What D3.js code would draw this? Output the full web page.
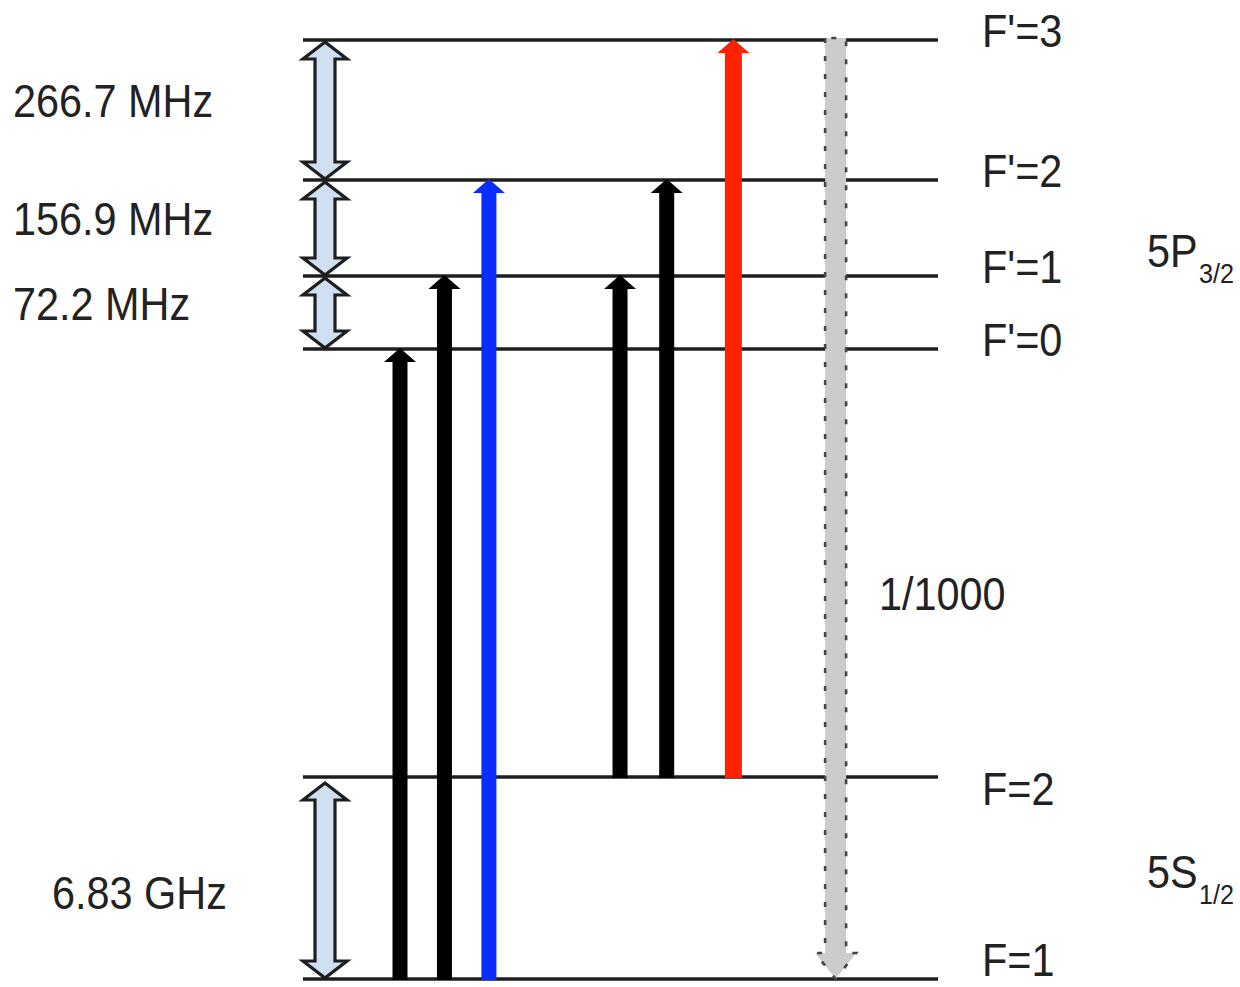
<!DOCTYPE html>
<html>
<head>
<meta charset="utf-8">
<script src="https://cdn.jsdelivr.net/npm/d3@7"></script>
<style>
  body { margin: 0; background: #fff; }
  text { font-family: "Liberation Sans", Arial, sans-serif; fill: #222; }
</style>
</head>
<body>
<div id="diagram"></div>
<script>
// Rb-87 D2 line hyperfine levels (schematic, not to scale)

// levels, bottom to top, with schematic height
const levelNames = ["F=1", "F=2", "F'=0", "F'=1", "F'=2", "F'=3"];
const levelHeights = [0, 202, 630, 703, 799, 939];

// splittings between neighbouring levels
const splitLower = ["F=1", "F'=0", "F'=1", "F'=2"];
const splitUpper = ["F=2", "F'=1", "F'=2", "F'=3"];
const splitLabels = ["6.83 GHz", "72.2 MHz", "156.9 MHz", "266.7 MHz"];

// optical transitions (up arrows)
const transFrom = ["F=1", "F=1", "F=1", "F=2", "F=2", "F=2"];
const transTo = ["F'=0", "F'=1", "F'=2", "F'=1", "F'=2", "F'=3"];
const transColumn = [0, 1, 2, 4.95, 6, 7.5];
const transColors = ["#000000", "#000000", "#0a2dff", "#000000", "#000000", "#ff2200"];

// off-resonant decay
const decayFrom = "F'=3";
const decayTo = "F=1";
const decayColumn = 9.8;
const decayLabel = "1/1000";

// manifold names
const manifoldNames = ["5P", "5S"];
const manifoldSubs = ["3/2", "1/2"];

const W = 1240, H = 987;
const lineX0 = 303, lineX1 = 938;
const splitX = 325;

const svg = d3.select("#diagram").append("svg")
    .attr("width", W)
    .attr("height", H);

const yScale = d3.scaleLinear()
    .domain([0, 939])
    .range([979, 40]);

const xScale = d3.scaleLinear()
    .domain([0, 10])
    .range([400, 844.5]);

const levelY = {};
levelNames.forEach(function(n, i) { levelY[n] = yScale(levelHeights[i]); });

// stretched text like the source picture
function label(g, x, y, txt, size) {
    return g.append("text")
        .attr("transform", "translate(" + x + "," + y + ") scale(0.9,1)")
        .style("font-size", size + "px")
        .text(txt);
}

// polygon for a single up arrow, tip at yTip
function upArrow(x, yBase, yTip, sw, hw, hh) {
    return [
        [x - sw / 2, yBase], [x - sw / 2, yTip + hh], [x - hw / 2, yTip + hh],
        [x, yTip], [x + hw / 2, yTip + hh], [x + sw / 2, yTip + hh], [x + sw / 2, yBase]
    ];
}

function downArrow(x, yBase, yTip, sw, hw, hh) {
    return [
        [x - sw / 2, yBase], [x - sw / 2, yTip - hh], [x - hw / 2, yTip - hh],
        [x, yTip], [x + hw / 2, yTip - hh], [x + sw / 2, yTip - hh], [x + sw / 2, yBase]
    ];
}

function doubleArrow(x, yTop, yBot, sw, hw, hh) {
    return [
        [x, yTop], [x + hw / 2, yTop + hh], [x + sw / 2, yTop + hh],
        [x + sw / 2, yBot - hh], [x + hw / 2, yBot - hh], [x, yBot],
        [x - hw / 2, yBot - hh], [x - sw / 2, yBot - hh], [x - sw / 2, yTop + hh],
        [x - hw / 2, yTop + hh]
    ];
}

const poly = d3.line().curve(d3.curveLinearClosed);

// level lines
svg.append("g").attr("id", "levels")
    .selectAll("line")
    .data(levelNames)
    .enter().append("line")
    .attr("x1", lineX0)
    .attr("x2", lineX1)
    .attr("y1", function(d) { return levelY[d]; })
    .attr("y2", function(d) { return levelY[d]; })
    .attr("stroke", "#1e1e1e")
    .attr("stroke-width", 3.5);

// splitting double arrows
const splits = splitLabels.map(function(l, i) {
    return { label: l, top: levelY[splitUpper[i]], bot: levelY[splitLower[i]], ground: splitLower[i] === "F=1" };
});

svg.append("g").attr("id", "splits")
    .selectAll("path")
    .data(splits)
    .enter().append("path")
    .attr("d", function(d) {
        let top = d.ground ? d.top + 6 : d.top + 2;
        return poly(doubleArrow(splitX, top, d.bot - 1, 20, 44, 17));
    })
    .attr("fill", "#cfe0f2")
    .attr("stroke", "#1e1e1e")
    .attr("stroke-width", 3.2)
    .attr("stroke-linejoin", "miter");

const leftLabels = svg.append("g").attr("id", "split_labels");
splits.forEach(function(d) {
    let mid = (d.top + d.bot) / 2;
    if (d.ground) {
        label(leftLabels, 52, mid + 31, d.label, 46);
    } else {
        label(leftLabels, 13, mid + 7, d.label, 46);
    }
});

// decay arrow (grey, dotted outline)
const xd = xScale(decayColumn);
svg.append("path")
    .attr("d", poly(downArrow(xd, levelY[decayFrom] - 2, levelY[decayTo], 21, 41, 26)))
    .attr("fill", "#cccccc")
    .attr("stroke", "#444444")
    .attr("stroke-width", 2.6)
    .attr("stroke-dasharray", "5 13");

label(svg, 879, 610, decayLabel, 46);

// transition arrows
const trans = transFrom.map(function(f, i) {
    return { from: f, to: transTo[i], col: transColumn[i], color: transColors[i] };
});

svg.append("g").attr("id", "transitions")
    .selectAll("path")
    .data(trans)
    .enter().append("path")
    .attr("d", function(d) {
        let sw = d.color === "#ff2200" ? 17 : 15;
        return poly(upArrow(xScale(d.col), levelY[d.from] + 1, levelY[d.to] - 1, sw, 32, 14));
    })
    .attr("fill", function(d) { return d.color; });

// level labels on the right
const rightLabels = svg.append("g").attr("id", "level_labels");
levelNames.forEach(function(n) {
    let dy = n === "F=2" ? 28 : (n === "F=1" ? -3 : 7);
    label(rightLabels, 982, levelY[n] + dy, n, 46);
});

// manifold names
const mLabels = svg.append("g").attr("id", "manifolds");
manifoldNames.forEach(function(m, i) {
    let base = m === "5P" ? 267 : 888;
    label(mLabels, 1147, base, m, 46);
    label(mLabels, 1199, base + 16, manifoldSubs[i], 28);
});
</script>
</body>
</html>
